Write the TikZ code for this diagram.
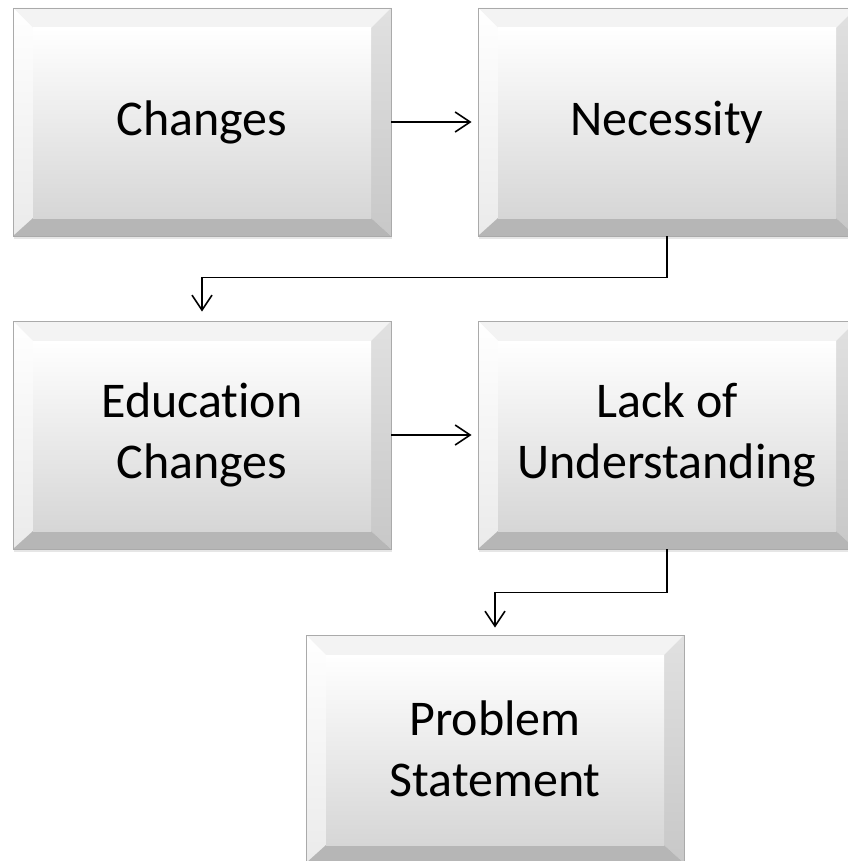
\documentclass[tikz,border=0pt]{standalone}
\usepackage{fontspec}
\setmainfont{Carlito}[Ligatures=NoCommon]
\usepackage{xcolor}
\usetikzlibrary{arrows.meta,shadows}
\definecolor{rim}{RGB}{170,170,170}
\definecolor{facelow}{RGB}{214,214,214}
\definecolor{bevtop}{RGB}{243,243,243}
\definecolor{bevside}{RGB}{200,200,200}
\definecolor{bevlow}{RGB}{182,182,182}

\tikzset{
  stage/.style={rectangle, minimum width=378pt, minimum height=228pt, inner sep=0pt,
    draw=rim, line width=0.8pt, fill=white, align=center,
    font=\fontsize{50}{61}\selectfont,
    drop shadow={shadow xshift=1pt, shadow yshift=-3pt, opacity=0.2},
    path picture={
      \path (path picture bounding box.north west) coordinate (o1)
            ([xshift=20pt,yshift=-20pt]path picture bounding box.north west) coordinate (i1)
            (path picture bounding box.north east) coordinate (o2)
            ([xshift=-20pt,yshift=-20pt]path picture bounding box.north east) coordinate (i2)
            (path picture bounding box.south east) coordinate (o3)
            ([xshift=-20pt,yshift=18pt]path picture bounding box.south east) coordinate (i3)
            (path picture bounding box.south west) coordinate (o4)
            ([xshift=20pt,yshift=18pt]path picture bounding box.south west) coordinate (i4);
      \fill[bevtop] (o1) -- (o2) -- (i2) -- (i1) -- cycle;
      \shade[top color=white, bottom color=white!92!black] (o1) -- (i1) -- (i4) -- (o4) -- cycle;
      \shade[top color=white!88!black, bottom color=bevside] (o2) -- (o3) -- (i3) -- (i2) -- cycle;
      \fill[bevlow] (o4) -- (i4) -- (i3) -- (o3) -- cycle;
      \shade[top color=white, bottom color=facelow] (i1) rectangle (i3);
    }},
  flow/.style={draw=black, line width=1.6pt, -{Straight Barb[length=15pt,width=20pt,line width=1.6pt]}}
}

\begin{document}
\begin{tikzpicture}[x=1pt,y=-1pt]
    \useasboundingbox (0,0) rectangle (847,861);

    % Boxes
    \node[stage] (chg) at (202,122) {Changes};
    \node[stage] (nec) at (667,122) {Necessity};
    \node[stage] (edu) at (202,435) {Education\\Changes};
    \node[stage] (lack) at (667,435) {Lack of\\Understanding};
    \node[stage] (prob) at (495,749) {Problem\\Statement};

    % Connectors
    \draw[flow, shorten >=6pt] (chg.east) -- (nec.west);
    \draw[flow, shorten >=6pt] (edu.east) -- (lack.west);
    \draw[flow, shorten >=9pt] (nec.south) -- ++(0,41) -| (edu.north);
    \draw[flow, shorten >=7pt] (lack.south) -- ++(0,43) -| (prob.north);
\end{tikzpicture}
\end{document}
